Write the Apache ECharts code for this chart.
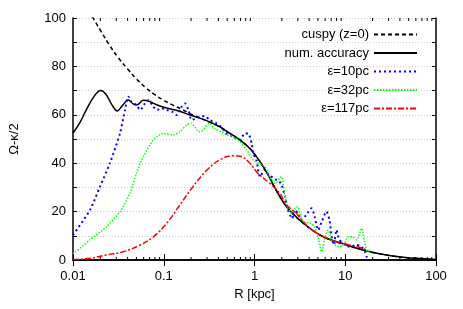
<!DOCTYPE html>
<html>
<head>
<meta charset="utf-8">
<script src="https://cdn.jsdelivr.net/npm/echarts@6/dist/echarts.min.js"></script>
<style>html,body{margin:0;padding:0;background:#fff}#c{width:463px;height:309px}</style>
</head>
<body>
<div id="c"></div>
<script>
// ---- data ----
const seriesNames = ['cuspy (z=0)', 'num. accuracy', 'ε=10pc', 'ε=32pc', 'ε=117pc'];
const xTickLabels = ['0.01', '0.1', '1', '10', '100'];
const xMinorTicks = [0.02,0.03,0.04,0.05,0.06,0.07,0.08,0.09,0.2,0.3,0.4,0.5,0.6,0.7,0.8,0.9,2,3,4,5,6,7,8,9,20,30,40,50,60,70,80,90];

const cuspyR = [0.01, 0.0125, 0.0158, 0.02, 0.025, 0.0316, 0.04, 0.05, 0.063, 0.079, 0.1, 0.126, 0.158, 0.2, 0.25, 0.316, 0.415, 0.536, 0.69, 0.89, 1.05, 1.25, 1.48, 1.61, 2.26, 3.45, 5.73, 10.4, 18.7, 36.9, 60, 100];
const cuspyV = [116, 108.5, 101.5, 95, 89, 83.6, 78.9, 74.8, 71.3, 68.4, 66, 64, 62.3, 60.3, 58.7, 57.1, 55, 52.3, 49.6, 46.1, 42.7, 38.6, 33.8, 31, 22, 15.2, 9.6, 6.2, 3.4, 1.4, 0.7, 0.2];

const accR = [0.01, 0.012, 0.014, 0.017, 0.0202, 0.023, 0.027, 0.0308, 0.035, 0.0407, 0.046, 0.0504, 0.0596, 0.07, 0.077, 0.1, 0.15, 0.195, 0.3, 0.415, 0.536, 0.69, 0.89, 1.05, 1.25, 1.48, 1.61, 2.26, 3.45, 5.73, 10.4, 18.7, 36.9, 60, 100];
const accV = [52.5, 57, 62, 67.5, 70, 68.5, 64, 61.6, 63.8, 66.1, 64.5, 64, 66, 65.5, 64.7, 63.1, 61.5, 59.9, 57.5, 55, 52.3, 49.6, 46.1, 42.7, 38.6, 33.8, 31, 22, 15.2, 9.6, 6.2, 3.4, 1.4, 0.7, 0.2];

const eps10R = [0.01, 0.0154, 0.0198, 0.0255, 0.0329, 0.0374, 0.0407, 0.044, 0.0503, 0.055, 0.062, 0.0676, 0.0767, 0.085, 0.0948, 0.108, 0.123, 0.139, 0.157, 0.171, 0.187, 0.203, 0.25, 0.28, 0.322, 0.38, 0.43, 0.49, 0.58, 0.69, 0.78, 0.85, 0.93, 0.97, 1.05, 1.15, 1.29, 1.45, 1.76, 1.95, 2.17, 2.3, 2.6, 2.77, 3.0, 3.3, 3.7, 4.26, 4.6, 5.04, 5.5, 6.2, 6.7, 7.1, 7.5, 8.0, 8.4, 9.2, 10, 11.1, 13.3, 15.0, 16.5, 17.2, 18.7];
const eps10V = [10.3, 20.7, 30.3, 40, 52.3, 62, 67.5, 65.4, 64, 62, 64.7, 66, 63.3, 62, 62.7, 62, 61.3, 59.9, 63.3, 64.7, 62, 57.9, 59.2, 59.5, 57.9, 56.5, 55, 52.3, 51, 49.6, 52.3, 52.3, 48.2, 44, 41.3, 34.4, 37.2, 35.1, 33, 31.7, 26.2, 21.4, 17.2, 20.7, 19.3, 16.5, 18.6, 21.4, 17.9, 12.4, 15.8, 20, 16.5, 9.6, 6.2, 12.4, 9.6, 6.9, 6.2, 5.5, 6.2, 5.5, 3.4, 1.4, 0.7];

const eps32R = [0.01, 0.0154, 0.0235, 0.033, 0.0424, 0.05, 0.0595, 0.077, 0.099, 0.127, 0.15, 0.179, 0.2, 0.22, 0.245, 0.27, 0.32, 0.36, 0.43, 0.49, 0.58, 0.69, 0.82, 0.97, 1.2, 1.3, 1.47, 1.7, 1.9, 1.98, 2.15, 2.3, 2.6, 2.8, 3.0, 3.15, 3.45, 4.1, 4.6, 5.0, 5.5, 5.9, 6.5, 7.0, 7.7, 8.5, 9.5, 10.8, 12, 13.3, 15.2, 16.3, 17.7, 18.5];
const eps32V = [2.5, 8.3, 13.8, 20, 27.5, 35.8, 42.7, 49.6, 52.3, 51.7, 53, 55.8, 56.5, 55, 53, 53.7, 56.5, 54.4, 53, 51.7, 51, 48.9, 45.5, 41.3, 39.3, 38.6, 34.4, 31.7, 33.8, 34.4, 27.5, 22, 19.3, 21.4, 22, 19.3, 15.8, 15.2, 13.8, 9.6, 3.4, 8.3, 12.4, 8.3, 6.2, 5.5, 6.2, 9.6, 9.6, 8.3, 13.1, 7.6, 3.4, 4.1];

const eps117R = [0.01, 0.0154, 0.0235, 0.0358, 0.0548, 0.077, 0.108, 0.15, 0.21, 0.3, 0.42, 0.58, 0.69, 0.89, 1.05, 1.2, 1.47, 1.9, 2.26, 2.9, 3.45, 4.1, 5.7, 8.0, 11.1, 15.8, 17.8];
const eps117V = [0.2, 0.7, 2.1, 3.4, 6.2, 9.6, 15.2, 22.7, 30.3, 37.2, 41.5, 43.1, 42.9, 40, 36.5, 34.4, 31.7, 27.5, 22.7, 19.3, 15.8, 13.1, 9.6, 7.6, 6.2, 4.8, 3.4];

const pairs = (r, v) => r.map((x, i) => [x, v[i]]);

const FONT = 'Liberation Sans';
const chart = echarts.init(document.getElementById('c'), null, {renderer: 'canvas'});

const baseX = {
  type: 'log', logBase: 10, min: 0.01, max: 100,
  axisLine: {show: true, lineStyle: {color: '#000', width: 1.5}},
  axisTick: {show: true, inside: true, length: 6, lineStyle: {color: '#000'}},
  splitLine: {show: false},
  minorTick: {show: false}
};
const baseY = {
  type: 'value', min: 0, max: 100, interval: 10,
  axisLine: {show: true, lineStyle: {color: '#000', width: 1.5}},
  axisTick: {show: true, inside: true, length: 4, lineStyle: {color: '#000'}}
};

chart.setOption({
  animation: false,
  textStyle: {fontFamily: FONT},
  grid: {left: 73, right: 27, top: 18, bottom: 49, containLabel: false},
  legend: {
    orient: 'vertical', right: 45, top: 28, padding: 0,
    align: 'right', itemWidth: 43, itemHeight: 14, itemGap: 5.5,
    data: seriesNames,
    itemStyle: {opacity: 0},
    textStyle: {fontFamily: FONT, fontSize: 13, color: '#000'}
  },
  xAxis: [
    Object.assign({}, baseX, {
      position: 'bottom',
      name: 'R [kpc]', nameLocation: 'middle', nameGap: 26,
      nameTextStyle: {fontFamily: FONT, fontSize: 13, color: '#000'},
      axisLabel: {show: true, margin: 10, color: '#000', fontSize: 13, fontFamily: FONT,
        formatter: (v) => {
          const k = Math.round(Math.log10(v)) + 2;
          return xTickLabels[k] !== undefined ? xTickLabels[k] : '';
        }}
    }),
    Object.assign({}, baseX, {position: 'top', axisLabel: {show: false}})
  ],
  yAxis: [
    Object.assign({}, baseY, {
      position: 'left',
      name: 'Ω-κ/2', nameLocation: 'middle', nameGap: 52, nameRotate: 90,
      nameTextStyle: {fontFamily: FONT, fontSize: 13, color: '#000'},
      splitLine: {show: true, lineStyle: {color: '#c8c8c8', type: [1, 2], width: 1}},
      axisLabel: {show: true, margin: 7, color: '#000', fontSize: 13, fontFamily: FONT,
        formatter: (v) => (Math.round(v) % 20 === 0 ? String(v) : '')}
    }),
    Object.assign({}, baseY, {position: 'right', splitLine: {show: false}, axisLabel: {show: false}})
  ],
  series: [
    {
      name: seriesNames[0], type: 'line', data: pairs(cuspyR, cuspyV), smooth: 0.4,
      showSymbol: false, symbol: 'none', clip: true,
      lineStyle: {color: '#000', width: 1.5, type: [4, 3]}, itemStyle: {color: '#000'}, z: 3
    },
    {
      name: seriesNames[1], type: 'line', data: pairs(accR, accV), smooth: 0.4,
      showSymbol: false, symbol: 'none', clip: true,
      lineStyle: {color: '#000', width: 1.5, type: 'solid'}, itemStyle: {color: '#000'}, z: 4
    },
    {
      name: seriesNames[2], type: 'line', data: pairs(eps10R, eps10V), smooth: 0.25,
      showSymbol: false, symbol: 'none', clip: true,
      lineStyle: {color: '#0000ff', width: 2, type: [2, 3]}, itemStyle: {color: '#0000ff'}, z: 5
    },
    {
      name: seriesNames[3], type: 'line', data: pairs(eps32R, eps32V), smooth: 0.25,
      showSymbol: false, symbol: 'none', clip: true,
      lineStyle: {color: '#00ff00', width: 1.5, type: [1.5, 1.5]}, itemStyle: {color: '#00ff00'}, z: 5
    },
    {
      name: seriesNames[4], type: 'line', data: pairs(eps117R, eps117V), smooth: 0.4,
      showSymbol: false, symbol: 'none', clip: true,
      lineStyle: {color: '#ff0000', width: 1.5, type: [6, 2, 2, 2]}, itemStyle: {color: '#ff0000'}, z: 6
    },
    {
      name: 'minorTicks', type: 'custom', silent: true, z: 10,
      data: xMinorTicks.map(v => [v]),
      encode: {x: 0},
      renderItem: (params, api) => {
        const v = api.value(0);
        const b = api.coord([v, 0]);
        const t = api.coord([v, 100]);
        return {
          type: 'group',
          children: [
            {type: 'line', shape: {x1: b[0], y1: b[1], x2: b[0], y2: b[1] - 3}, style: {stroke: '#000', lineWidth: 1}},
            {type: 'line', shape: {x1: t[0], y1: t[1], x2: t[0], y2: t[1] + 3}, style: {stroke: '#000', lineWidth: 1}}
          ]
        };
      }
    }
  ]
});
</script>
</body>
</html>
